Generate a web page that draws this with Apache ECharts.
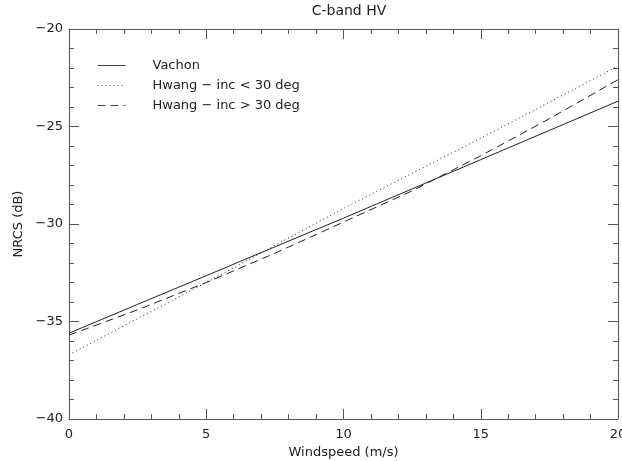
<!DOCTYPE html>
<html>
<head>
<meta charset="utf-8">
<script src="https://cdn.jsdelivr.net/npm/echarts@6/dist/echarts.min.js"></script>
<style>html,body{margin:0;padding:0;background:#fff}#c{width:622px;height:461px}</style>
</head>
<body>
<div id="c"></div>
<script>
var windspeed = [0, 2.5, 5, 7.5, 10, 12.5, 15, 17.5, 20];
var vachon   = [-35.6, -34.12, -32.65, -31.17, -29.7, -28.2, -26.7, -25.2, -23.7];
var hwangLow = [-36.7, -34.85, -33.0, -31.1, -29.2, -27.4, -25.6, -23.75, -21.9];
var hwangHigh= [-35.7, -34.4, -33.0, -31.5, -29.9, -28.3, -26.5, -24.6, -22.6];
var xTicks = [0, 5, 10, 15, 20];
var yTicks = [-40, -35, -30, -25, -20];
var seriesNames = ['Vachon', 'Hwang \u2212 inc < 30 deg', 'Hwang \u2212 inc > 30 deg'];

function pairs(ys){ return windspeed.map(function(x,i){ return [x, ys[i]]; }); }
var FONT = 'DejaVu Sans';
var TXT = '#222';
var AX = '#555';
function xa(pos, show){
  return {type:'value', position:pos, min:0, max:20, interval:5,
    axisLine:{show:true, onZero:false, lineStyle:{color:AX, width:1}},
    axisTick:{show:true, inside:true, length:10, lineStyle:{color:AX}},
    minorTick:{show:true, splitNumber:5, length:5, lineStyle:{color:AX}},
    splitLine:{show:false},
    axisLabel:{show:show, color:TXT, fontFamily:FONT, fontSize:13, margin:9,
      hideOverlap:false, showMaxLabel:true, showMinLabel:true},
    name: show ? 'Windspeed (m/s)' : '', nameLocation:'middle', nameGap:25,
    nameTextStyle:{color:TXT, fontFamily:FONT, fontSize:13}};
}
function ya(pos, show){
  return {type:'value', position:pos, min:-40, max:-20, interval:5,
    axisLine:{show:true, onZero:false, lineStyle:{color:AX, width:1}},
    axisTick:{show:true, inside:true, length:10, lineStyle:{color:AX}},
    minorTick:{show:true, splitNumber:5, length:5, lineStyle:{color:AX}},
    splitLine:{show:false},
    axisLabel:{show:show, color:TXT, fontFamily:FONT, fontSize:13, margin:6,
      formatter:function(v){ return String(v).replace('-', '\u2212'); }},
    name: show ? 'NRCS (dB)' : '', nameLocation:'middle', nameGap:42, nameRotate:90,
    nameTextStyle:{color:TXT, fontFamily:FONT, fontSize:13}};
}
var chart = echarts.init(document.getElementById('c'), null, {renderer:'canvas'});
chart.setOption({
  animation:false,
  backgroundColor:'#fff',
  title:{text:'C-band HV', left:344, textAlign:'center', top:-1,
    textStyle:{color:TXT, fontFamily:FONT, fontSize:14, fontWeight:'normal'}},
  grid:{left:69, right:4, top:29, bottom:42, containLabel:false, outerBoundsMode:'none'},
  xAxis:[xa('bottom', true), xa('top', false)],
  yAxis:[ya('left', true), ya('right', false)],
  legend:{orient:'vertical', left:92, top:54, itemWidth:28, itemHeight:10, itemGap:7,
    itemStyle:{opacity:0}, lineStyle:{width:1, color:'#444'},
    textStyle:{color:TXT, fontFamily:FONT, fontSize:13, padding:[0,0,0,22]},
    data:seriesNames},
  series:[
    {name:seriesNames[0], type:'line', data:pairs(vachon), symbol:'none', silent:true,
      lineStyle:{color:'#222', width:1, type:'solid'}, itemStyle:{color:'#222'}},
    {name:seriesNames[1], type:'line', data:pairs(hwangLow), symbol:'none', silent:true,
      lineStyle:{color:'#222', width:1, type:[1,3]}, itemStyle:{color:'#222'}},
    {name:seriesNames[2], type:'line', data:pairs(hwangHigh), symbol:'none', silent:true,
      lineStyle:{color:'#222', width:1, type:[8,5]}, itemStyle:{color:'#222'}}
  ]
});
</script>
</body>
</html>
